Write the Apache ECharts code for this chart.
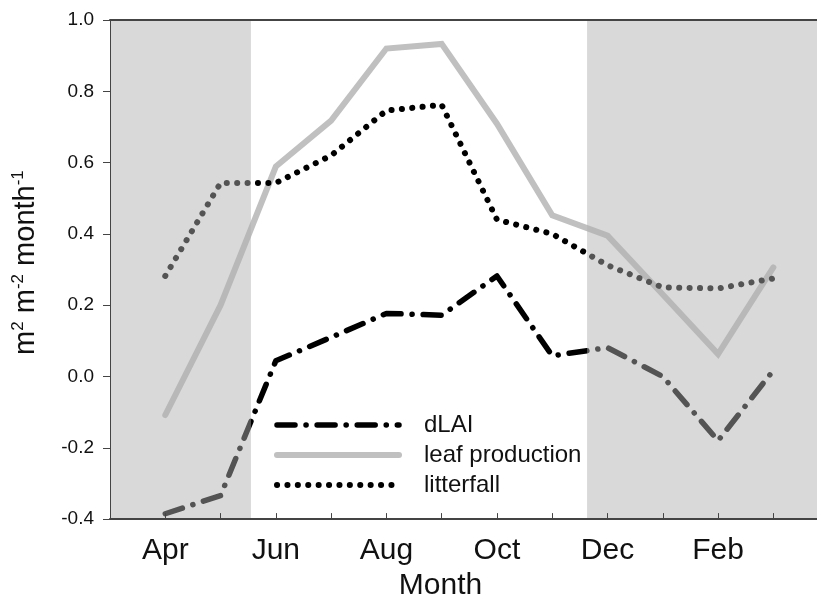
<!DOCTYPE html>
<html>
<head>
<meta charset="utf-8">
<script src="https://cdn.jsdelivr.net/npm/echarts@6/dist/echarts.min.js"></script>
<style>html,body{margin:0;padding:0;background:#fff}#c{width:817px;height:606px}</style>
</head>
<body>
<div id="c"></div>
<script>
// Months Apr..Mar
var months = ['Apr','May','Jun','Jul','Aug','Sep','Oct','Nov','Dec','Jan','Feb','Mar'];
var tickLabels = ['Apr','Jun','Aug','Oct','Dec','Feb'];
var dLAI = [-0.385, -0.334, 0.044, 0.11, 0.177, 0.172, 0.282, 0.058, 0.081, 0.0, -0.18, 0.017];
var leafProduction = [-0.108, 0.20, 0.589, 0.718, 0.92, 0.933, 0.709, 0.452, 0.395, 0.23, 0.063, 0.306];
var litterfall = [0.282, 0.543, 0.543, 0.62, 0.746, 0.762, 0.44, 0.40, 0.312, 0.25, 0.247, 0.275];
var yTicks = [-0.4, -0.2, 0.0, 0.2, 0.4, 0.6, 0.8, 1.0];
// shaded periods (in month-axis units)
var shadeLeft = [0, 2.55];
var shadeRight = [8.63, 12.79];

var FONT = 'Liberation Sans, Arial, Helvetica, sans-serif';
function pairs(arr){ return arr.map(function(v,i){ return [i+1, v]; }); }

var chart = echarts.init(document.getElementById('c'), null, {renderer:'canvas'});
chart.setOption({
  animation: false,
  backgroundColor: '#fff',
  grid: { left: 110, right: 0, top: 20, bottom: 82, containLabel: false },
  legend: {
    orient: 'vertical',
    left: 269, top: 408,
    itemWidth: 122, itemHeight: 24, itemGap: 6,
    data: ['dLAI','leaf production','litterfall'],
    itemStyle: { opacity: 0, borderWidth: 0 },
    lineStyle: { width: 'inherit', type: 'inherit', cap: 'round', join: 'round' },
    textStyle: { fontFamily: FONT, fontSize: 24, color: '#111', lineHeight: 24, padding: [0,0,0,20] },
    selectedMode: false
  },
  xAxis: [{
    type: 'value', min: 0, max: 12.79, interval: 1,
    position: 'bottom', z: 20,
    name: 'Month', nameLocation: 'middle', nameGap: 50,
    nameTextStyle: { fontFamily: FONT, fontSize: 30, color: '#111', padding: [0, 46, 0, 0] },
    axisLine: { show: true, onZero: false, lineStyle: { color: '#444', width: 2 } },
    axisTick: { show: true, inside: true, length: 6, lineStyle: { color: '#444', width: 1 } },
    splitLine: { show: false },
    axisLabel: {
      fontFamily: FONT, fontSize: 30, color: '#111', margin: 17, showMaxLabel: false, showMinLabel: false,
      formatter: function(v){ var i = Math.round(v); if (i % 2 === 1) return tickLabels[(i-1)/2] || ''; return ''; }
    }
  }, {
    type: 'value', min: 0, max: 12.79, position: 'top', z: 20,
    axisLine: { show: true, onZero: false, lineStyle: { color: '#444', width: 2 } },
    axisTick: { show: false }, axisLabel: { show: false }, splitLine: { show: false }
  }],
  yAxis: {
    type: 'value', min: -0.4, max: 1.0, interval: 0.2, z: 20,
    name: '{n|m}{s|2}{n| m}{s|-2}{n| month}{s|-1}',
    nameLocation: 'middle', nameGap: 68, nameRotate: 90,
    nameTextStyle: { fontFamily: FONT, color: '#111', padding: [0, 0, 0, 14],
      rich: { n: { fontFamily: FONT, fontSize: 29, color: '#111', lineHeight: 32 },
              s: { fontFamily: FONT, fontSize: 17, color: '#111', verticalAlign: 'top', lineHeight: 32 } } },
    axisLine: { show: true, onZero: false, lineStyle: { color: '#444', width: 1 } },
    axisTick: { show: true, inside: false, length: 7, lineStyle: { color: '#444' } },
    splitLine: { show: false },
    axisLabel: { fontFamily: FONT, fontSize: 19, color: '#111', margin: 16,
      formatter: function(v){ return v.toFixed(1); } }
  },
  series: [
    {
      name: 'leaf production', type: 'line', data: pairs(leafProduction), symbol: 'none', z: 2,
      lineStyle: { color: '#c0c0c0', width: 6, cap: 'round', join: 'miter' },
      itemStyle: { color: '#c0c0c0' }
    },
    {
      name: 'litterfall', type: 'line', data: pairs(litterfall), symbol: 'none', z: 3,
      lineStyle: { color: '#000', width: 6, type: [0.1, 10.3], cap: 'round', join: 'round' },
      itemStyle: { color: '#000' }
    },
    {
      name: 'dLAI', type: 'line', data: pairs(dLAI), symbol: 'none', z: 4,
      lineStyle: { color: '#000', width: 5.5, type: [18, 11, 0.1, 11], cap: 'round', join: 'round' },
      itemStyle: { color: '#000' }
    },
    {
      name: 'shade', type: 'line', data: [], symbol: 'none', z: 10,
      markArea: {
        silent: true, z: 10,
        itemStyle: { color: 'rgba(176,176,176,0.48)', borderWidth: 0 },
        label: { show: false },
        data: [
          [{ xAxis: shadeLeft[0], yAxis: -0.4 }, { xAxis: shadeLeft[1], yAxis: 1.0 }],
          [{ xAxis: shadeRight[0], yAxis: -0.4 }, { xAxis: shadeRight[1], yAxis: 1.0 }]
        ]
      }
    }
  ]
});
</script>
</body>
</html>
